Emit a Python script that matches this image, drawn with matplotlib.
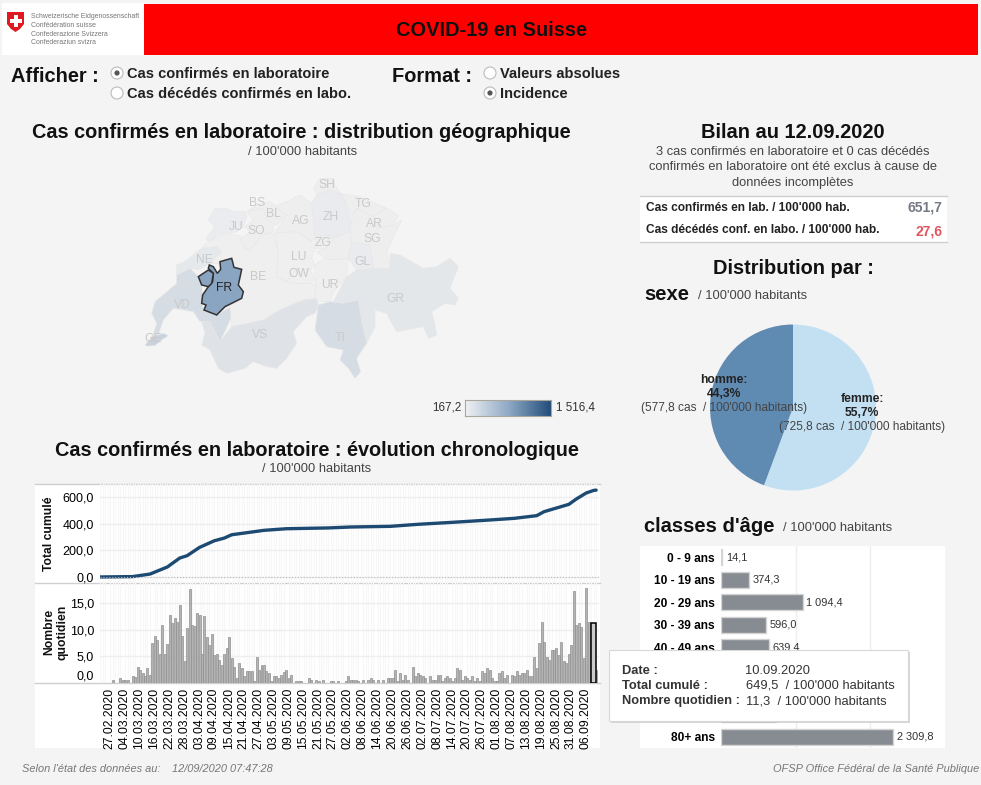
import numpy as np
import pandas as pd
import matplotlib
matplotlib.use("Agg")
import matplotlib.pyplot as plt
from matplotlib.colors import LinearSegmentedColormap
from matplotlib.patches import Rectangle, Polygon, Circle
from matplotlib.transforms import ScaledTranslation

plt.rcParams['font.family'] = 'Liberation Sans'

W, H = 981, 785
BG = '#f4f4f4'

# chart data
first_day = '2020-02-24'
daily_lead = [0, 0, 0, 0, 0]
daily_spring = [0.5, 0, 0, 0.9, 0.5, 0.4, 0.4, 0, 1.3, 1.0, 3.0, 2.4, 1.8, 1.3, 2.8, 1.4,
                7.5, 8.7, 8.1, 5.4, 10.9, 5.4, 7.2, 12.8, 11.3, 12.1, 11.5, 14.6, 8.7, 4.1,
                10.3, 17.6, 10.9, 10.6, 13.2, 12.8, 5.3, 12.5, 8.6, 7.1, 9.1, 5.2, 5.4, 4.3,
                3.4, 5.4, 6.5, 8.6, 4.7, 3.0, 0.9, 3.7, 2.8, 1.3, 2.1, 2.1, 2.1, 0.3, 4.8,
                2.4, 3.3, 3.3, 2.1, 1.8, 0.3, 1.2, 1.2, 0.9, 1.5, 1.9, 2.3, 0.9, 1.5, 0, 0.3,
                0.3, 0.3, 0, 0]
daily_summer = [0.9, 0.5, 0, 0.5, 0.3, 0, 0.5, 0, 0, 0.3, 0.3, 0, 0.3, 0, 0, 0.3, 1.3, 0.5,
                0.5, 0.5, 0.3, 0, 0.5, 0, 0.5, 0.9, 0.5, 0, 0.5, 0, 0.5, 0, 0.9, 0.9, 0.9,
                2.4, 0.3, 1.8, 0.5, 1.5, 0.5, 0, 2.9, 1.2, 1.8, 1.4, 1.2, 0.9, 0, 1.3, 0.5,
                0.5, 1.5, 1.5, 0.3, 0.9, 1.2, 0.9, 0.3, 0.9, 2.8, 2.4, 0.5, 1.2, 0.9, 0.5,
                1.2, 0.3, 0.9, 0.3, 2.2, 1.8, 2.8, 2.4, 0.9, 0.3, 0.3, 1.8, 2.2, 0.9, 1.5,
                0, 1.5, 1.3, 2.2, 1.5, 1.8, 1.8, 2.4, 1.2, 1.2, 4.8, 2.8, 7.5, 11.5, 7.7,
                4.8, 4.3, 6.2, 6.2, 6.5, 5.2, 7.7, 4.1, 3.7, 5.4, 7.1, 17.2, 10.9, 11.3,
                10.4, 4.6, 17.8, 11.5, 7.1, 11.3, 2.3]
daily = daily_lead + daily_spring + daily_summer
cum_days = ['2020-02-24', '2020-03-08', '2020-03-15', '2020-03-22', '2020-03-27', '2020-03-30',
            '2020-04-04', '2020-04-10', '2020-04-14', '2020-04-17', '2020-04-23', '2020-04-30',
            '2020-05-09', '2020-05-26', '2020-06-04', '2020-06-20', '2020-07-01', '2020-07-15',
            '2020-07-28', '2020-08-09', '2020-08-18', '2020-08-21', '2020-08-31', '2020-09-03',
            '2020-09-07', '2020-09-10', '2020-09-11']
cum_values = [0.3, 3, 22, 75, 142, 160, 222, 272, 292, 317, 332, 350, 362, 368, 375, 380, 395,
              410, 425, 440, 460, 490, 545, 585, 630, 649.5, 651.7]
tick_days = pd.date_range('2020-02-27', '2020-09-06', freq='6D')
highlight_day = '2020-09-10'
highlight_value = 11.3

sex_names = ['femme', 'homme']
sex_values = [725.8, 577.8]
sex_colors = ['#c3dff2', '#5f8ab2']

age_names = ['0 - 9 ans', '10 - 19 ans', '20 - 29 ans', '30 - 39 ans', '40 - 49 ans',
             '50 - 59 ans', '60 - 69 ans', '70 - 79 ans', '80+ ans']
age_values = [14.1, 374.3, 1094.4, 596.0, 639.4, 600.0, 480.0, 735.0, 2309.8]
age_hidden = ['50 - 59 ans', '60 - 69 ans', '70 - 79 ans']  # behind the tooltip

# canton outlines traced at 3x from the map corner (130, 170)
cantons = {
    'GE': ('#c9d2dd', [(45,525),(70,495),(85,495),(100,490),(115,497),(95,510),(75,527),(50,528)]),
    'VD': ('#d6dce4', [(140,315),(180,295),(205,320),(215,345),(218,375),(215,400),(222,420),(260,435),(300,412),(305,440),(270,515),(240,455),(210,455),(190,425),(130,415),(100,450),(85,495),(70,490),(80,460),(65,430),(75,395),(105,370),(140,340)]),
    'NE': ('#e6e9ec', [(140,285),(165,275),(195,250),(215,235),(260,230),(275,245),(255,265),(240,280),(205,300),(180,295),(140,315)]),
    'JU': ('#ebecef', [(235,150),(255,115),(290,115),(310,125),(345,125),(350,140),(340,170),(320,185),(295,190),(265,195),(235,215),(228,205),(255,170)]),
    'BE': ('#efefef', [(235,215),(290,190),(335,200),(360,240),(395,195),(430,190),(445,250),(440,320),(470,335),(500,340),(540,340),(560,345),(560,380),(520,390),(450,420),(400,450),(305,470),(300,412),(340,370),(330,300),(305,265),(270,280),(240,280),(275,245),(260,230),(215,235)]),
    'SO': ('#eeeeee', [(330,210),(360,185),(345,170),(370,150),(350,125),(400,115),(430,130),(430,185),(395,195),(360,240),(345,235)]),
    'BL': ('#eeeeee', [(350,125),(380,105),(420,95),(470,135),(440,165),(410,150),(400,115)]),
    'AG': ('#eeeeee', [(435,110),(480,90),(510,75),(545,100),(550,145),(555,205),(545,215),(500,185),(435,190),(470,135)]),
    'ZH': ('#e9ebee', [(545,100),(560,75),(600,60),(630,70),(645,90),(665,160),(660,185),(610,205),(590,195),(555,205),(550,145)]),
    'SH': ('#eeeeee', [(550,55),(570,25),(610,25),(615,45),(630,70),(600,60),(560,72)]),
    'TG': ('#eeeeee', [(630,70),(690,80),(770,115),(730,140),(680,115),(665,140),(645,90)]),
    'AR': ('#eeeeee', [(730,140),(770,115),(805,135),(790,165),(745,175)]),
    'SG': ('#eeeeee', [(680,115),(730,140),(745,175),(790,165),(815,150),(770,245),(780,295),(730,295),(720,225),(665,215),(660,185),(665,150)]),
    'ZG': ('#eeeeee', [(555,205),(590,195),(605,205),(590,235),(555,235)]),
    'SZ': ('#eeeeee', [(610,205),(660,185),(665,215),(655,265),(610,270),(585,265),(560,245),(590,235)]),
    'LU': ('#efefef', [(435,190),(500,185),(545,215),(555,235),(545,265),(555,285),(540,300),(500,295),(470,335),(440,320),(445,250)]),
    'OW': ('#efefef', [(470,335),(500,295),(540,300),(555,330),(535,340),(500,340)]),
    'UR': ('#efefef', [(555,285),(585,265),(610,270),(655,265),(650,320),(610,365),(600,395),(560,395),(555,370),(560,345),(555,330)]),
    'GL': ('#e9ebee', [(665,215),(720,225),(730,295),(680,300),(655,265)]),
    'GR': ('#e4e7ea', [(610,395),(650,320),(680,300),(780,295),(780,250),(810,255),(880,295),(920,290),(960,265),(985,290),(960,355),(985,385),(975,405),(945,400),(905,425),(915,465),(920,495),(895,505),(880,470),(800,485),(780,450),(770,430),(735,420),(735,470),(710,520),(695,455),(685,390),(650,400)]),
    'TI': ('#d6dce4', [(565,405),(600,395),(640,400),(685,390),(695,455),(710,520),(680,565),(692,605),(675,625),(655,595),(630,570),(640,540),(590,530),(555,480)]),
    'VS': ('#dfe3e8', [(215,455),(240,455),(270,515),(305,470),(400,450),(450,420),(520,390),(560,385),(565,405),(555,430),(530,440),(490,485),(500,520),(470,565),(440,595),(410,590),(370,575),(345,595),(290,610),(265,595),(240,540),(215,525),(225,490)]),
}
fr_main = [(238,285),(250,290),(262,310),(272,298),(270,275),(305,265),(312,292),(335,298),(325,345),(340,365),(335,385),(305,400),(285,410),(260,435),(222,420),(228,405),(215,400),(218,375),(235,350),(248,335),(250,310),(235,295)]
fr_enclave = [(205,320),(235,300),(250,310),(245,340),(235,350),(215,345)]
canton_labels = {'SH': (590,43), 'BS': (380,95), 'BL': (430,128), 'JU': (318,168), 'SO': (380,180),
                 'AG': (512,150), 'ZH': (602,138), 'TG': (700,100), 'AR': (733,158), 'SG': (725,203),
                 'ZG': (580,215), 'LU': (505,258), 'OW': (508,308), 'NE': (222,266), 'BE': (385,317),
                 'UR': (598,342), 'GL': (697,272), 'GR': (795,383), 'VD': (157,402), 'VS': (390,492),
                 'TI': (630,500), 'GE': (68,505)}


def map_xy(pts):
    pts = np.array(pts, dtype=float)
    return np.column_stack([130 + pts[:, 0] / 3, 170 + pts[:, 1] / 3])


def px_axes(x0, y0, x1, y1, z=1):
    ax = fig.add_axes([x0 / W, 1 - y1 / H, (x1 - x0) / W, (y1 - y0) / H], zorder=z)
    return ax


def canvas(z, shift=0):
    ax = px_axes(0, 0, W, H, z)
    ax.set_xlim(0, W)
    ax.set_ylim(H - shift, -shift)
    ax.axis('off')
    return ax


def fr_num(v):
    return f"{v:,.1f}".replace(",", " ").replace(".", ",")


fig = plt.figure(figsize=(W / 100, H / 100), dpi=100, facecolor=BG)
bg = canvas(0)
fg = canvas(3, shift=1)  # text sits 1px lower than its nominal y

# header
bg.add_patch(Rectangle((2, 3), 142, 52, fc='white', ec='none'))
bg.add_patch(Rectangle((144, 4), 834, 51, fc='#ff0000', ec='none'))
bg.add_patch(Polygon([(7, 12), (24, 12), (24, 24), (20, 29), (15.5, 32), (11, 29), (7, 24)], fc='#e0181f', ec='none'))
bg.add_patch(Rectangle((13.5, 15), 4, 12, fc='white', ec='none'))
bg.add_patch(Rectangle((9.5, 19), 12, 4, fc='white', ec='none'))
for y, line in zip([15.5, 24.5, 33, 41.5], ['Schweizerische Eidgenossenschaft', 'Confédération suisse',
                                            'Confederazione Svizzera', 'Confederaziun svizra']):
    fg.text(31, y, line, fontsize=4.95, color='#777777', va='center')
fg.text(491, 30, 'COVID-19 en Suisse', fontsize=14.4, fontweight='bold', ha='center', va='center', color='#111111')

# selectors
fg.text(11, 75, 'Afficher :', fontsize=14.4, fontweight='bold', va='center', color='#111111')
fg.text(392, 75, 'Format :', fontsize=14.4, fontweight='bold', va='center', color='#111111')
radios = [(117, 73, 'Cas confirmés en laboratoire', True), (117, 93, 'Cas décédés confirmés en labo.', False),
          (490, 73, 'Valeurs absolues', False), (490, 93, 'Incidence', True)]
for x, y, label, on in radios:
    bg.add_patch(Circle((x, y), 6, fc='white', ec='#bbbbbb', lw=0.8))
    if on:
        bg.add_patch(Circle((x, y), 2.6, fc='#555555', ec='none'))
    fg.text(x + 10, y, label, fontsize=10.55, fontweight='bold', va='center', color='#222222')

# titles
fg.text(301, 132, 'Cas confirmés en laboratoire : distribution géographique', fontsize=14.35, fontweight='bold', ha='center', va='center', color='#111111')
fg.text(303, 151, "/ 100'000 habitants", fontsize=9.25, ha='center', va='center', color='#444444')
fg.text(317, 449, 'Cas confirmés en laboratoire : évolution chronologique', fontsize=14.35, fontweight='bold', ha='center', va='center', color='#111111')
fg.text(317, 468, "/ 100'000 habitants", fontsize=9.25, ha='center', va='center', color='#444444')

# map
for name, (color, outline) in cantons.items():
    bg.add_patch(Polygon(map_xy(outline), fc=color, ec='#e7e7e7', lw=0.4))
for outline in (fr_main, fr_enclave):
    bg.add_patch(Polygon(map_xy(outline), fc='#8aa5c2', ec='#333333', lw=1.1, zorder=4))
for name, xy in canton_labels.items():
    pos = map_xy([xy])[0]
    fg.text(pos[0], pos[1], name, fontsize=8.7, color='#c9c9c9', ha='center', va='center')
pos = map_xy([(282, 350)])[0]
fg.text(pos[0], pos[1], 'FR', fontsize=8.7, color='#222222', ha='center', va='center')

# colour scale
cmap = LinearSegmentedColormap.from_list('suisse', ['#f0f1f3', '#8fa9c6', '#1f4c78'])
leg = px_axes(465, 400, 551, 416, 2)
leg.imshow(np.linspace(0, 1, 86).reshape(1, -1), cmap=cmap, aspect='auto')
leg.set_xticks([])
leg.set_yticks([])
for s in leg.spines.values():
    s.set_color('#aaa69b')
fg.text(461, 406, '167,2', fontsize=8.4, ha='right', va='center', color='#333333')
fg.text(556, 406, '1 516,4', fontsize=8.4, ha='left', va='center', color='#333333')

# chronological panels
bg.add_patch(Rectangle((35, 484), 565, 264, fc='white', ec='none'))
for y in (484, 583, 683):
    bg.plot([35, 600], [y, y], color='#cfcfcf', lw=1)
fg.text(49, 533, 'Total cumulé', fontsize=8.7, fontweight='bold', rotation=90, ha='center', va='center', color='#111111')
fg.text(55.5, 631, 'Nombre\nquotidien', fontsize=8.7, fontweight='bold', rotation=90, ha='center', va='center', color='#111111', linespacing=1.15)

days = pd.date_range(first_day, periods=len(daily))
x_left = pd.Timestamp('2020-02-27') - pd.Timedelta(days=3.15)
x_right = x_left + pd.Timedelta(days=201.1)

ax_cum = px_axes(100, 484, 598.5, 583, 1)
ax_day = px_axes(100, 583, 598.5, 682.5, 1)
for ax in (ax_cum, ax_day):
    ax.patch.set_alpha(0)
    ax.set_xlim(x_left, x_right)
    ax.set_xticks(days, minor=True)
    ax.grid(which='minor', axis='x', color='#f7f7f7', lw=0.8)
    ax.grid(which='major', axis='y', color='#eeeeee', lw=1)
    ax.set_axisbelow(True)
    ax.tick_params(which='both', length=0, labelsize=9)
    ax.tick_params(axis='y', pad=4.3)
    for s in ax.spines.values():
        s.set_visible(False)

ax_cum.plot(pd.to_datetime(cum_days), cum_values, color='#1d4a72', lw=2.4, solid_capstyle='round')
ax_cum.axhline(0, color='#bbbbbb', lw=0.8, ls=':')
ax_cum.set_ylim(-45, 697.5)
ax_cum.set_yticks([0, 200, 400, 600])
ax_cum.set_yticklabels([fr_num(v) for v in [0, 200, 400, 600]])
ax_cum.set_xticks([])

bar_edges = ['#8f8f8f' if v > 0 else 'none' for v in daily]
ax_day.bar(days, daily, width=0.8, color='#b4b4b4', edgecolor=bar_edges, lw=0.5)
ax_day.bar(pd.Timestamp(highlight_day), highlight_value, width=1.9, color='#cccccc', edgecolor='black', lw=1.1)
ax_day.set_ylim(0, 18.8)
ax_day.set_yticks([0, 5, 10, 15])
ax_day.set_yticklabels([fr_num(v) for v in [0, 5, 10, 15]])
ax_day.get_yticklabels()[0].set_verticalalignment('bottom')
ax_day.set_xticks(tick_days)
ax_day.set_xticklabels(tick_days.strftime('%d.%m.%Y'), rotation=90, fontsize=8.7)
ax_day.tick_params(axis='x', pad=4)
nudge = ScaledTranslation(2 / 100, 0, fig.dpi_scale_trans)
for lab in ax_day.get_xticklabels():
    lab.set_transform(lab.get_transform() + nudge)

# bilan
fg.text(793, 132, 'Bilan au 12.09.2020', fontsize=14.4, fontweight='bold', ha='center', va='center', color='#111111')
for y, line in zip([151, 166, 182], ['3 cas confirmés en laboratoire et 0 cas décédés',
                                     'confirmés en laboratoire ont été exclus à cause de',
                                     'données incomplètes']):
    fg.text(793, y, line, fontsize=9.25, ha='center', va='center', color='#444444')
bg.add_patch(Rectangle((640, 196), 307, 46, fc='white', ec='none'))
for y in (196, 242):
    bg.plot([640, 947], [y, y], color='#cfcfcf', lw=1)
fg.text(646, 207, "Cas confirmés en lab. / 100'000 hab.", fontsize=8.55, fontweight='bold', va='center', color='#222222')
fg.text(646, 229, "Cas décédés conf. en labo. / 100'000 hab.", fontsize=8.55, fontweight='bold', va='center', color='#222222')
fg.text(942, 207, '651,7', fontsize=10, fontweight='bold', ha='right', va='center', color='#747985')
fg.text(942, 230, '27,6', fontsize=10, fontweight='bold', ha='right', va='center', color='#e0555f')
fg.text(793, 268, 'Distribution par :', fontsize=14.4, fontweight='bold', ha='center', va='center', color='#111111')

# sexe
fg.text(644, 293, 'sexe', fontsize=14.5, fontweight='bold', va='center', color='#111111')
fg.text(698, 295, "/ 100'000 habitants", fontsize=9.25, va='center', color='#444444')
ax_pie = px_axes(710, 324.5, 876, 490.5, 2)
ax_pie.pie(sex_values, colors=sex_colors, startangle=90, counterclock=False, radius=1,
           wedgeprops={'lw': 0})
ax_pie.set_xlim(-1, 1)
ax_pie.set_ylim(-1, 1)
total = sum(sex_values)
pie_xy = {'femme': (862, 398), 'homme': (724, 379)}
for name, value in zip(sex_names, sex_values):
    x, y = pie_xy[name]
    fg.text(x, y, f'{name}:', fontsize=8.7, fontweight='bold', ha='center', va='center', color='#222222')
    fg.text(x, y + 14, f'{fr_num(value / total * 100)}%', fontsize=8.7, fontweight='bold', ha='center', va='center', color='#222222')
    fg.text(x, y + 28, f"({fr_num(value)} cas  / 100'000 habitants)", fontsize=8.6, ha='center', va='center', color='#444444')

# classes d'age
fg.text(644, 525, "classes d'âge", fontsize=14.5, fontweight='bold', va='center', color='#111111')
fg.text(783, 527, "/ 100'000 habitants", fontsize=9.25, va='center', color='#444444')
bg.add_patch(Rectangle((640, 546), 305, 202, fc='white', ec='none'))
ax_age = px_axes(721, 546, 945, 748, 1)
ax_age.patch.set_alpha(0)
ypos = np.arange(len(age_names))
ax_age.barh(ypos, age_values, height=0.71, color='#868c92', edgecolor='#d4d4d4', lw=1)
ax_age.set_ylim(len(age_names) - 0.5, -0.5)
ax_age.set_xlim(0, 3000)
ax_age.set_xticks([1000, 2000])
ax_age.set_xticklabels([])
ax_age.grid(axis='x', color='#eeeeee', lw=1)
ax_age.set_axisbelow(True)
ax_age.set_yticks(ypos)
ax_age.set_yticklabels(age_names, fontsize=8.6, fontweight='bold')
ax_age.tick_params(length=0, pad=4.3)
for s in ax_age.spines.values():
    s.set_visible(False)
for lab, name in zip(ax_age.get_yticklabels(), age_names):
    lab.set_visible(name not in age_hidden)
for y, v, name in zip(ypos, age_values, age_names):
    if name not in age_hidden:
        ax_age.text(v + 50, y, fr_num(v), fontsize=7.9, va='center', color='#333333')

# tooltip
tip = canvas(5)
tip.add_patch(Rectangle((611, 652), 299, 71, fc='#bdbdbd', ec='none', alpha=0.6))
tip.add_patch(Rectangle((609, 650), 299, 71, fc='white', ec='#d8d8d8', lw=0.8))
tip_rows = [(671, 'Date :', '10.09.2020'),
            (686, 'Total cumulé :', "649,5  / 100'000 habitants"),
            (701, 'Nombre quotidien :', "11,3  / 100'000 habitants")]
for y, key, val in tip_rows:
    tip.text(622, y, key, fontsize=9.25, fontweight='bold', va='center', color='#333333')
    tip.text(745.5, y, val, fontsize=9.25, va='center', color='#333333')

# footer
fg.text(22, 768.5, "Selon l'état des données au:", fontsize=7.9, style='italic', va='center', color='#777777')
fg.text(172, 768.5, '12/09/2020 07:47:28', fontsize=7.9, style='italic', va='center', color='#777777')
fg.text(979, 767.5, 'OFSP Office Fédéral de la Santé Publique', fontsize=7.95, style='italic', ha='right', va='center', color='#777777')

fig.savefig('out.png', dpi=100, facecolor=BG)
